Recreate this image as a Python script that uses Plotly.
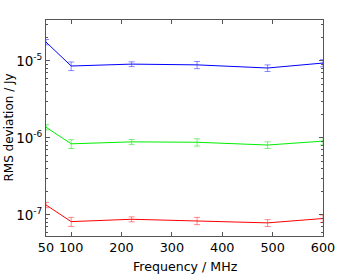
import plotly.graph_objects as go

freq = [50, 100, 220, 350, 490, 600]
blue = [1.76e-5, 8.6e-6, 9.1e-6, 8.9e-6, 8.1e-6, 9.4e-6]
blue_err = [1.4e-6, 1.1e-6, 0.65e-6, 0.95e-6, 0.8e-6, 1.0e-6]
green = [1.38e-6, 8.4e-7, 8.9e-7, 8.8e-7, 8.1e-7, 9.1e-7]
green_err = [1.1e-7, 1.1e-7, 0.65e-7, 0.95e-7, 0.8e-7, 1.0e-7]
red = [1.35e-7, 8.2e-8, 8.8e-8, 8.4e-8, 7.9e-8, 9.0e-8]
red_err = [1.1e-8, 1.1e-8, 0.65e-8, 0.9e-8, 0.8e-8, 1.0e-8]

xticks = [50, 100, 200, 300, 400, 500, 600]
yticks = [1e-7, 1e-6, 1e-5]
ylabels = ['10<sup><span style="font-size:9px">-7</span></sup>',
           '10<sup><span style="font-size:9px">-6</span></sup>',
           '10<sup><span style="font-size:9px">-5</span></sup>']

fig = go.Figure()
for vals, errs, col, ecol in [
    (blue, blue_err, "#0000ff", "rgba(60,60,255,0.6)"),
    (green, green_err, "#00ee00", "rgba(40,230,40,0.6)"),
    (red, red_err, "#ff0000", "rgba(255,60,60,0.6)"),
]:
    fig.add_trace(go.Scatter(
        x=freq, y=vals, mode="lines",
        line=dict(color=col, width=1),
        error_y=dict(type="data", array=errs, visible=True, color=ecol, thickness=1, width=3),
        showlegend=False, hoverinfo="skip",
    ))

axis_common = dict(
    showline=True, linecolor="#555555", linewidth=1, mirror="allticks",
    ticks="inside", tickcolor="#555555", ticklen=4, showgrid=False, zeroline=False,
    automargin=False,
)
fig.update_layout(
    width=357, height=276,
    margin=dict(l=46, r=34, t=20, b=40),
    paper_bgcolor="white", plot_bgcolor="white",
    font=dict(family="DejaVu Sans", size=12, color="#000"),
    xaxis=dict(range=[50, 600], tickvals=xticks, ticktext=[str(t) for t in xticks],
               tickfont=dict(family="DejaVu Sans", size=12.8, color="#000"), **axis_common),
    yaxis=dict(type="log", range=[-7.273, -4.468], tickvals=yticks, ticktext=ylabels,
               tickfont=dict(family="DejaVu Sans", size=13.5, color="#000"),
               minor=dict(ticks="inside", dtick="D1", ticklen=2, tickcolor="#555555"),
               **axis_common),
    annotations=[
        dict(text="Frequency / MHz", xref="paper", yref="paper",
             x=(185 - 46) / 277, y=(236 - 266.5) / 216, xanchor="center", yanchor="middle",
             showarrow=False, font=dict(size=12.6)),
        dict(text="RMS deviation / Jy", xref="paper", yref="paper",
             x=(8.5 - 46) / 277, y=(236 - 128) / 216, xanchor="center", yanchor="middle",
             textangle=-90, showarrow=False, font=dict(size=12)),
    ],
)
fig.write_html("out.html", post_script="document.body.style.margin='0';",
               config={"displayModeBar": False})
